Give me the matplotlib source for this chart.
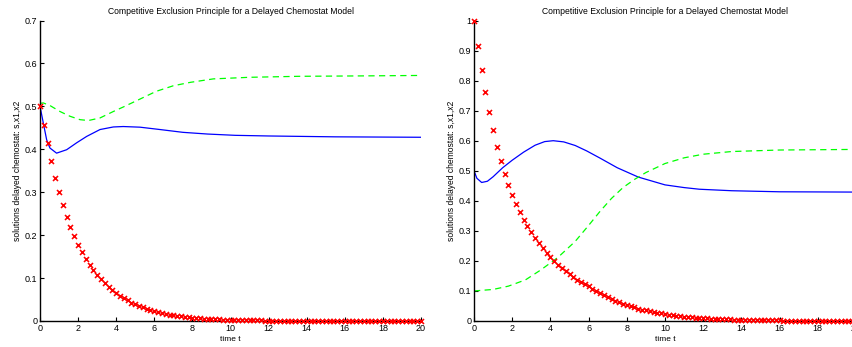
import numpy as np
import matplotlib
matplotlib.use("Agg")
import matplotlib.pyplot as plt

plt.rcParams['font.family'] = ['Liberation Sans', 'DejaVu Sans']

# sample times of the red markers (every 0.2 from 0 to 20)
t_marks = np.round(np.arange(0, 20.01, 0.2), 1)

# left panel: substrate s (red x), x1 (blue solid), x2 (green dashed)
s_left = [0.500, 0.457, 0.414, 0.372, 0.334, 0.300, 0.270, 0.242, 0.218, 0.197,
          0.177, 0.160, 0.145, 0.131, 0.119, 0.108, 0.097, 0.088, 0.080, 0.072,
          0.065, 0.059, 0.053, 0.048, 0.043, 0.039, 0.035, 0.032, 0.029, 0.026,
          0.023, 0.021, 0.019, 0.017, 0.015, 0.014, 0.012, 0.011, 0.010, 0.009,
          0.008, 0.0072, 0.0065, 0.0058, 0.0052, 0.0047, 0.0042, 0.0038, 0.0034, 0.0031,
          0.0028, 0.0025, 0.0022, 0.0020, 0.0018, 0.0016, 0.0015, 0.0013, 0.0012, 0.0011,
          0.0010, 0.0009, 0.0008, 0.0007, 0.0007, 0.0006, 0.0005, 0.0005, 0.0004, 0.0004,
          0.0004, 0.0003, 0.0003, 0.0003, 0.0003, 0.0002, 0.0002, 0.0002, 0.0002, 0.0002,
          0.0002, 0.0001, 0.0001, 0.0001, 0.0001, 0.0001, 0.0001, 0.0001, 0.0001, 0.0001,
          0.0001, 0.0001, 0.0001, 0.0001, 0.0001, 0.0001, 0.0001, 0.0001, 0.0001, 0.0001,
          0.0001]

t_x1_left = [0, 0.35, 0.52, 0.87, 1.4, 1.92, 2.45, 3.15, 3.85, 4.37, 5.25, 6.3,
             7.5, 8.8, 10.25, 12, 15.5, 20]
x1_left = [0.500, 0.422, 0.403, 0.391, 0.399, 0.415, 0.430, 0.446, 0.452, 0.453,
           0.4515, 0.446, 0.4395, 0.4355, 0.4325, 0.431, 0.429, 0.428]

t_x2_left = [0, 0.17, 0.52, 1.05, 1.57, 2.1, 2.54, 3.15, 3.85, 4.37, 5.25, 6.1,
             7.0, 7.9, 9.1, 11, 13.6, 17.1, 20]
x2_left = [0.507, 0.508, 0.502, 0.488, 0.477, 0.469, 0.467, 0.473, 0.488, 0.4985,
           0.517, 0.535, 0.548, 0.556, 0.564, 0.5677, 0.570, 0.571, 0.572]

# right panel
s_right = [1.000, 0.915, 0.835, 0.762, 0.695, 0.634, 0.580, 0.533, 0.490, 0.452,
           0.418, 0.388, 0.362, 0.337, 0.315, 0.295, 0.276, 0.258, 0.242, 0.227,
           0.213, 0.200, 0.188, 0.176, 0.165, 0.155, 0.146, 0.137, 0.129, 0.122,
           0.115, 0.107, 0.099, 0.092, 0.085, 0.079, 0.073, 0.067, 0.062, 0.057,
           0.053, 0.049, 0.045, 0.041, 0.038, 0.035, 0.032, 0.029, 0.027, 0.025,
           0.023, 0.021, 0.019, 0.0175, 0.016, 0.0147, 0.0135, 0.0124, 0.0114, 0.0105,
           0.0096, 0.0088, 0.0081, 0.0074, 0.0068, 0.0063, 0.0058, 0.0053, 0.0049, 0.0045,
           0.0041, 0.0038, 0.0035, 0.0032, 0.0029, 0.0027, 0.0025, 0.0023, 0.0021, 0.0019,
           0.0018, 0.0016, 0.0015, 0.0014, 0.0013, 0.0012, 0.0011, 0.0010, 0.0009, 0.0008,
           0.0008, 0.0007, 0.0007, 0.0006, 0.0006, 0.0005, 0.0005, 0.0004, 0.0004, 0.0004,
           0.0003]

t_x1_right = [0, 0.15, 0.4, 0.7, 1.0, 1.5, 2.0, 2.6, 3.2, 3.7, 4.15, 4.7, 5.3,
              5.9, 6.6, 7.5, 8.6, 10.0, 11.0, 11.8, 13.5, 16, 20]
x1_right = [0.500, 0.475, 0.461, 0.465, 0.480, 0.510, 0.535, 0.562, 0.585, 0.597,
            0.600, 0.596, 0.584, 0.566, 0.542, 0.510, 0.479, 0.453, 0.444, 0.4385,
            0.4335, 0.430, 0.429]

t_x2_right = [0, 1.0, 1.8, 2.7, 3.5, 4.4, 5.3, 6.0, 6.6, 7.2, 7.8, 8.4, 9.0,
              10.0, 11.0, 12.0, 13.5, 16, 20]
x2_right = [0.100, 0.105, 0.116, 0.137, 0.170, 0.212, 0.265, 0.318, 0.365, 0.408,
            0.444, 0.471, 0.494, 0.524, 0.543, 0.555, 0.564, 0.569, 0.571]

title = "Competitive Exclusion Principle for a Delayed Chemostat Model"
ylab = "solutions delayed chemostat: s,x1,x2"

fig = plt.figure(figsize=(8.52, 3.47), dpi=100)
ax1 = fig.add_axes([40 / 852, 26 / 347, 381 / 852, 300.5 / 347])
ax2 = fig.add_axes([474 / 852, 26 / 347, 382 / 852, 300.5 / 347])

panels = [
    (ax1, s_left, t_x1_left, x1_left, t_x2_left, x2_left, 0.7),
    (ax2, s_right, t_x1_right, x1_right, t_x2_right, x2_right, 1.0),
]

for ax, s, tb, xb, tg, xg, ytop in panels:
    ax.plot(tb, xb, color=(0, 0, 1), lw=0.9, zorder=2)
    ax.plot(tg, xg, color=(0, 1, 0), lw=0.9, dashes=(5, 3.5), zorder=2)
    ax.plot(t_marks, s, 'x', color=(1, 0, 0), ms=3.6, mew=1.15, zorder=3,
            clip_on=False)
    ax.set_xlim(0, 20)
    ax.set_ylim(0, ytop)
    ax.set_xticks(np.arange(0, 21, 2))
    yt = np.round(np.arange(0, ytop + 0.001, 0.1), 1)
    ax.set_yticks(yt)
    ax.set_yticklabels(["%g" % v for v in yt])
    for side in ("top", "right"):
        ax.spines[side].set_visible(False)
    for side in ("left", "bottom"):
        ax.spines[side].set_linewidth(1.0)
    ax.tick_params(direction="in", length=3, width=0.8, labelsize=6.5,
                   pad=2, colors="black")
    ax.set_title(title, fontsize=6.2, pad=4.5)
    ax.set_xlabel("time t", fontsize=6.0, labelpad=2.5)
    ax.set_ylabel(ylab, fontsize=6.15, labelpad=2)

fig.savefig("out.png", dpi=100)
